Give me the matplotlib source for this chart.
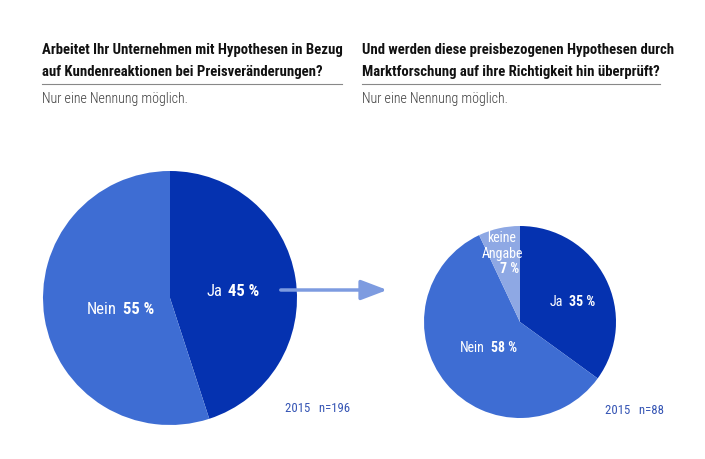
import matplotlib
matplotlib.use("Agg")
import matplotlib.pyplot as plt
from matplotlib.patches import FancyArrowPatch

plt.rcParams['font.family'] = ['Roboto Condensed', 'Archivo Narrow', 'DejaVu Sans Condensed', 'DejaVu Sans']

# Data
left_categories = ["Ja", "Nein"]
left_values = [45, 55]
right_categories = ["Ja", "Nein", "keine Angabe"]
right_values = [35, 58, 7]
left_title = "Arbeitet Ihr Unternehmen mit Hypothesen in Bezug\nauf Kundenreaktionen bei Preisveränderungen?"
right_title = "Und werden diese preisbezogenen Hypothesen durch\nMarktforschung auf ihre Richtigkeit hin überprüft?"
subtitle = "Nur eine Nennung möglich."
left_note = "2015   n=196"
right_note = "2015   n=88"

C_JA = "#0532b0"
C_NEIN = "#3e6dd3"
C_KA = "#8ea8e4"
C_ARROW = "#7d9be0"
C_NOTE = "#3454b4"

W, H = 705, 459
fig = plt.figure(figsize=(W / 100, H / 100), dpi=100)

def px_axes(x0, y0, x1, y1):
    return fig.add_axes([x0 / W, 1 - y1 / H, (x1 - x0) / W, (y1 - y0) / H])

# Left pie
axl = px_axes(43, 171, 297, 425)
axl.pie(left_values, colors=[C_JA, C_NEIN], startangle=90, counterclock=False,
        radius=1, wedgeprops=dict(linewidth=0))
axl.set_xlim(-1, 1); axl.set_ylim(-1, 1); axl.set_aspect('equal'); axl.axis('off')

# Right pie
axr = px_axes(424, 226, 616, 418)
axr.pie(right_values, colors=[C_JA, C_NEIN, C_KA], startangle=90, counterclock=False,
        radius=1, wedgeprops=dict(linewidth=0))
axr.set_xlim(-1, 1); axr.set_ylim(-1, 1); axr.set_aspect('equal'); axr.axis('off')

# Overlay axes in pixel coordinates
ov = fig.add_axes([0, 0, 1, 1], facecolor='none')
ov.set_xlim(0, W); ov.set_ylim(H, 0); ov.axis('off')

# Titles
ov.text(42, 61, left_title, fontsize=10.6, fontweight='bold', color='#111111',
        va='center', ha='left', linespacing=1.8)
ov.text(362, 61, right_title, fontsize=10.6, fontweight='bold', color='#111111',
        va='center', ha='left', linespacing=1.8)
ov.plot([42, 342], [84, 84], color='#888888', lw=0.8)
ov.plot([362, 660], [84, 84], color='#888888', lw=0.8)
ov.text(42, 99, subtitle, fontsize=10, fontweight='light', color='#3a3a3a', va='center', ha='left')
ov.text(362, 99, subtitle, fontsize=10, fontweight='light', color='#3a3a3a', va='center', ha='left')

# Arrow
arrow = FancyArrowPatch((278, 290), (390, 290), arrowstyle='-|>,head_length=10,head_width=3.8',
                        color=C_ARROW, lw=2.5, mutation_scale=1.6)
ov.add_patch(arrow)

def label(x, y, name, val, fs=11.5):
    ov.text(x - 3, y, name, fontsize=fs, color='white', ha='right', va='center')
    ov.text(x + 3, y, f"{val} %", fontsize=fs, color='white', fontweight='bold', ha='left', va='center')

label(120, 310, left_categories[1], left_values[1], fs=12)
label(225, 291, left_categories[0], left_values[0], fs=12)
label(566, 302, right_categories[0], right_values[0], fs=10)
label(488, 348, right_categories[1], right_values[1], fs=10)
ov.text(502, 246, "keine\nAngabe", fontsize=10, color='white', ha='center', va='center', linespacing=1.2)
ov.text(510, 269, f"{right_values[2]} %", fontsize=10, color='white', fontweight='bold', ha='center', va='center')

ov.text(285, 409, left_note, fontsize=9.2, color=C_NOTE, ha='left', va='center')
ov.text(605, 410, right_note, fontsize=9.2, color=C_NOTE, ha='left', va='center')

fig.savefig("out.png", dpi=100, facecolor='white')
